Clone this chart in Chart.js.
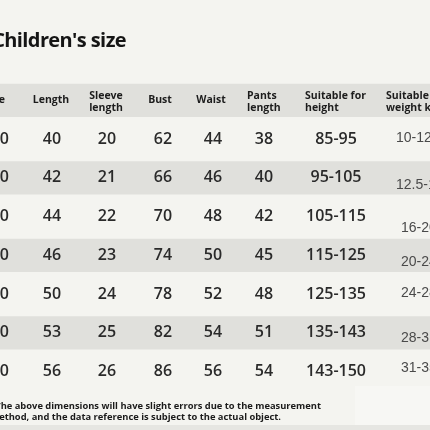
<!DOCTYPE html>
<html lang="en">
<head>
<meta charset="UTF-8">
<script src="https://cdn.jsdelivr.net/npm/chart.js"></script>
<title>Children's size</title>
<style>
  html, body { margin: 0; padding: 0; background: #f4f4f0; }
  #wrap { width: 430px; height: 430px; }
</style>
</head>
<body>
<div id="wrap"><canvas id="sizeChart" width="430" height="430"></canvas></div>
<script>
// table data
var columns = [['Size'], ['Length'], ['Sleeve', 'length'], ['Bust'], ['Waist'], ['Pants', 'length'], ['Suitable for', 'height'], ['Suitable for', 'weight kg']];
var sizes = ['90', '100', '110', '120', '130', '140', '150'];
var lengths = [40, 42, 44, 46, 50, 53, 56];
var sleeves = [20, 21, 22, 23, 24, 25, 26];
var busts = [62, 66, 70, 74, 78, 82, 86];
var waists = [44, 46, 48, 50, 52, 54, 56];
var pants = [38, 40, 42, 45, 48, 51, 54];
var heights = ['85-95', '95-105', '105-115', '115-125', '125-135', '135-143', '143-150'];
var weights = ['10-12.5', '12.5-16', '16-20', '20-24', '24-28', '28-31', '31-35'];

var rowKeys = ['header'].concat(sizes);
var tableCols = [sizes, lengths, sleeves, busts, waists, pants, heights, weights];

// layout (x-axis units), kept apart from the data
var headX = [5, 51, 106, 160, 211, 247, 305, 386];
var headAlign = ['right', 'center', 'center', 'center', 'center', 'left', 'left', 'left'];
var cellX = [9, 52, 107, 163, 213, 264, 336, 396];
var cellAlign = ['right', 'center', 'center', 'center', 'center', 'center', 'center', 'left'];
var weightDx = [0, 0, 5, 5, 5, 5, 5];
var weightDy = [-1, 7, 12, 7, -1, 5, -3];

var tablePlugin = {
    id: 'tableText',
    beforeDraw: function (chart) {
        var ctx = chart.ctx;
        ctx.save();
        ctx.fillStyle = '#f4f4f0';
        ctx.fillRect(0, 0, chart.width, chart.height);
        ctx.fillStyle = '#e6e6e2';
        ctx.fillRect(0, 425, chart.width, 5);
        ctx.fillStyle = '#f7f7f4';
        ctx.fillRect(355, 386, 75, 39);
        ctx.restore();
    },
    afterDatasetsDraw: function (chart) {
        var ctx = chart.ctx;
        var xs = chart.scales.x;
        var ys = chart.scales.y;
        ctx.save();
        ctx.textBaseline = 'middle';

        // title
        ctx.fillStyle = '#151515';
        ctx.font = 'bold 20px "Open Sans"';
        ctx.letterSpacing = '-0.6px';
        ctx.textAlign = 'right';
        ctx.fillText("Children's size", 126, 41);
        ctx.letterSpacing = '0px';

        // header
        ctx.font = 'bold 10.5px "Open Sans"';
        ctx.fillStyle = '#1c1c1c';
        var hy = ys.getPixelForValue(0);
        for (var c = 0; c < columns.length; c++) {
            ctx.textAlign = headAlign[c];
            var hx = xs.getPixelForValue(headX[c]);
            if (columns[c].length == 1) {
                ctx.fillText(columns[c][0], hx, hy);
            } else {
                ctx.fillText(columns[c][0], hx, hy - 4);
                ctx.fillText(columns[c][1], hx, hy + 8);
            }
        }

        // cells
        for (var r = 0; r < sizes.length; r++) {
            var py = ys.getPixelForValue(r + 1);
            for (var c = 0; c < tableCols.length; c++) {
                var px = xs.getPixelForValue(cellX[c]);
                ctx.textAlign = cellAlign[c];
                if (c == tableCols.length - 1) {
                    ctx.font = '14px "Liberation Sans"';
                    ctx.fillStyle = '#4a4a4a';
                    ctx.fillText(String(tableCols[c][r]), px + weightDx[r], py + weightDy[r]);
                } else {
                    ctx.font = '600 16px "Open Sans"';
                    ctx.fillStyle = '#2a2a2a';
                    ctx.fillText(String(tableCols[c][r]), px, py);
                }
            }
        }

        // note
        ctx.font = 'bold 9.35px "Open Sans"';
        ctx.fillStyle = '#1a1a1a';
        ctx.textAlign = 'right';
        ctx.fillText('The above dimensions will have slight errors due to the measurement', 321, 406);
        ctx.fillText('method, and the data reference is subject to the actual object.', 281, 417);
        ctx.restore();
    }
};

var bands = rowKeys.map(function (k, i) { return i % 2 == 0 ? [0, 430] : null; });

new Chart(document.getElementById('sizeChart'), {
    type: 'bar',
    data: {
        labels: rowKeys,
        datasets: [{
            data: bands,
            backgroundColor: '#e0e0dc',
            borderWidth: 0,
            barPercentage: 0.86,
            categoryPercentage: 1
        }]
    },
    options: {
        indexAxis: 'y',
        responsive: false,
        animation: false,
        layout: { padding: { top: 81, bottom: 39, left: 0, right: 0 } },
        plugins: { legend: { display: false }, tooltip: { enabled: false } },
        scales: {
            x: { type: 'linear', min: 0, max: 430, display: false },
            y: { type: 'category', display: false, offset: true }
        }
    },
    plugins: [tablePlugin]
});
</script>
</body>
</html>
